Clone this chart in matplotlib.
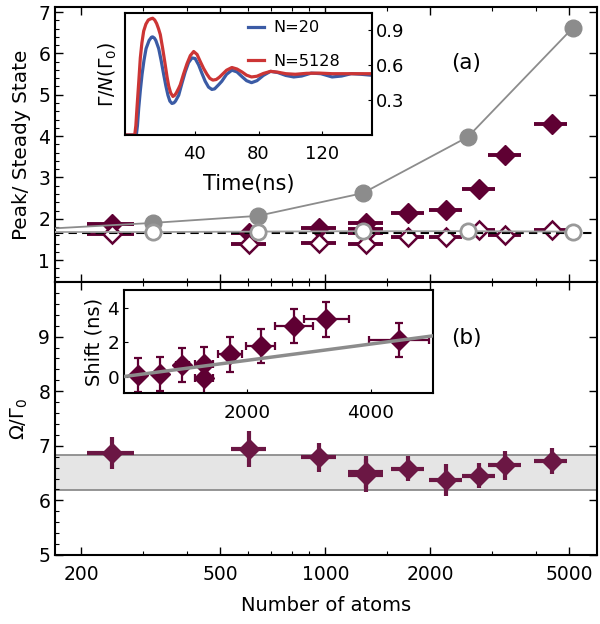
import matplotlib
matplotlib.use("Agg")
import matplotlib.pyplot as plt
from matplotlib.ticker import FixedLocator, MultipleLocator, NullFormatter

plt.rcParams['font.family'] = ['DejaVu Sans']
plt.rcParams['mathtext.fontset'] = 'dejavusans'

# measured atom numbers (shared by all panels)
atoms = [245, 605, 960, 1310, 1310, 1730, 2220, 2760, 3280, 4450]
atoms_err = [37, 70, 110, 150, 150, 190, 240, 300, 360, 480]

# panel (a): peak and steady state
peak_meas = [1.88, 1.66, 1.78, 1.90, 1.76, 2.13, 2.21, 2.71, 3.55, 4.28]
steady_meas = [1.62, 1.40, 1.42, 1.65, 1.38, 1.56, 1.56, 1.72, 1.60, 1.74]
theory_atoms = [160, 320, 640, 1280, 2560, 5120]
peak_theory = [1.76, 1.90, 2.07, 2.62, 3.98, 6.62]
steady_theory = [1.68, 1.68, 1.69, 1.70, 1.70, 1.69]
steady_level = 1.645

# inset (a): decay rate vs time
red_t = [-4, 2.5, 3.2, 3.9, 5, 6, 7, 8.1, 9.5, 11, 12.5, 13.75, 15, 16.2, 17.4,
         18.5, 20, 21.6, 22.7, 23.75, 25, 26.4, 27.5, 28.5, 30, 31, 33, 35.2,
         37.3, 39.4, 41.5, 43.5, 45.6, 47.7, 49.5, 51.4, 53.5, 55.5, 57, 60,
         63.3, 66.5, 69.6, 72.5, 75.6, 79, 83, 87.5, 92, 97, 103, 110, 118, 126,
         134, 142, 152]
red_v = [0, 0, 0.08, 0.23, 0.45, 0.66, 0.79, 0.89, 0.95, 0.985, 0.995, 1.0, 0.985,
         0.955, 0.91, 0.86, 0.74, 0.60, 0.50, 0.42, 0.36, 0.33, 0.34, 0.36, 0.40,
         0.43, 0.52, 0.61, 0.68, 0.715, 0.69, 0.63, 0.57, 0.52, 0.485, 0.47, 0.475,
         0.495, 0.515, 0.555, 0.578, 0.565, 0.54, 0.512, 0.497, 0.503, 0.527,
         0.545, 0.538, 0.525, 0.52, 0.528, 0.53, 0.525, 0.525, 0.525, 0.525]
blue_t = [-4, 3.5, 4.2, 5, 6, 7.1, 8.3, 9.6, 11.5, 13.0, 13.75, 14.8, 15.7, 17.5,
          19, 20.6, 22, 23.3, 24.5, 25.8, 27, 28, 30, 32, 34.1, 36.2, 38.3, 40.3,
          42.5, 44.5, 46.6, 48.7, 50.8, 52.5, 55, 57, 60, 63.3, 66.5, 69.6, 72.5,
          75.6, 79, 83, 87.5, 92, 97, 102, 107, 113, 119, 126, 132, 138, 144, 152]
blue_v = [0, 0, 0.08, 0.23, 0.38, 0.52, 0.64, 0.74, 0.81, 0.838, 0.84, 0.83, 0.81,
          0.74, 0.64, 0.52, 0.42, 0.34, 0.29, 0.27, 0.275, 0.29, 0.34, 0.44, 0.54,
          0.62, 0.66, 0.655, 0.60, 0.53, 0.46, 0.41, 0.39, 0.395, 0.43, 0.46, 0.52,
          0.555, 0.54, 0.50, 0.465, 0.448, 0.465, 0.51, 0.545, 0.535, 0.51, 0.497,
          0.505, 0.53, 0.525, 0.497, 0.505, 0.525, 0.52, 0.51]

# panel (b): oscillation frequency
omega = [6.87, 6.95, 6.79, 6.52, 6.46, 6.58, 6.37, 6.45, 6.64, 6.72]
omega_err = [0.30, 0.33, 0.27, 0.30, 0.30, 0.23, 0.29, 0.23, 0.27, 0.24]
omega_band = [6.19, 6.84]

# inset (b): time shift
shift = [0.10, 0.14, 0.68, 0.74, -0.06, 1.30, 1.80, 2.95, 3.34, 2.13]
shift_err = [1.0, 1.0, 1.0, 1.0, 1.0, 1.0, 1.0, 1.0, 1.0, 1.0]
fit_atoms = [0, 5000]
fit_shift = [0.0, 2.38]

maroon = '#5f0033'
maroon_b = '#6b1744'
gray = '#8c8c8c'

fig = plt.figure(figsize=(6, 6.24), dpi=100)
ax1 = fig.add_axes([0.0917, 0.548, 0.9033, 0.4407])
ax2 = fig.add_axes([0.0917, 0.1106, 0.9033, 0.4374])

for ax in (ax1, ax2):
    ax.set_xscale('log')
    ax.set_xlim(168, 6000)
    ax.xaxis.set_major_locator(FixedLocator([200, 500, 1000, 2000, 5000]))
    ax.xaxis.set_minor_locator(FixedLocator([300, 400, 600, 700, 800, 900, 1500, 3000, 4000]))
    ax.xaxis.set_minor_formatter(NullFormatter())
    ax.yaxis.set_minor_locator(MultipleLocator(0.2))
    ax.tick_params(which='both', direction='in', top=True, right=True, labelsize=13.5)
    ax.tick_params(which='major', length=6, width=1)
    ax.tick_params(which='minor', length=3, width=0.8)
    ax.tick_params(axis='y', which='minor', right=False)
    for s in ax.spines.values():
        s.set_linewidth(1.5)

# panel (a)
ax1.errorbar(atoms, peak_meas, xerr=atoms_err, fmt='D', color=maroon, ms=10.5,
             elinewidth=2.8, capsize=0, zorder=2)
ax1.errorbar(atoms, steady_meas, xerr=atoms_err, fmt='D', mfc='white', mec=maroon,
             mew=1.8, ecolor=maroon, ms=9.5, elinewidth=2.8, capsize=0, zorder=2)
ax1.axhline(steady_level, color='k', ls=(0, (4, 2.5)), lw=1.5, zorder=3)
ax1.plot(theory_atoms, peak_theory, '-', color=gray, lw=1.3, marker='o', ms=12,
         markevery=[1, 2, 3, 4, 5], mfc=gray, mec=gray, zorder=4)
ax1.plot(theory_atoms, steady_theory, '-', color='#a0a0a0', lw=1.3, marker='o', ms=11,
         markevery=[1, 2, 3, 4, 5], mfc='white', mec='#999999', mew=2, zorder=4)
ax1.set_ylim(0.47, 7.12)
ax1.yaxis.set_major_locator(MultipleLocator(1))
ax1.tick_params(axis='x', labelbottom=False)
ax1.set_ylabel('Peak/ Steady State', fontsize=14.4, labelpad=5)
ax1.text(0.759, 0.796, '(a)', transform=ax1.transAxes, fontsize=15.5, ha='center', va='center')

# panel (b)
ax2.axhspan(omega_band[0], omega_band[1], color='#e5e5e5', lw=0, zorder=1)
for v in omega_band:
    ax2.axhline(v, color='#8c8c8c', lw=1.3, zorder=1)
ax2.errorbar(atoms, omega, xerr=atoms_err, yerr=omega_err, fmt='D', color=maroon_b,
             ms=10, elinewidth=3, capsize=0, zorder=2)
ax2.set_ylim(5, 10)
ax2.yaxis.set_major_locator(FixedLocator([5, 6, 7, 8, 9]))
ax2.set_xticklabels(['200', '500', '1000', '2000', '5000'])
ax2.tick_params(axis='x', pad=7)
ax2.set_xlabel('Number of atoms', fontsize=14, labelpad=9)
ax2.set_ylabel(r'$\Omega/\Gamma_0$', fontsize=14, labelpad=6)
ax2.text(0.759, 0.795, '(b)', transform=ax2.transAxes, fontsize=15.5, ha='center', va='center')

# inset (a)
ia = fig.add_axes([0.2083, 0.7837, 0.4117, 0.1955])
ia.plot(blue_t, blue_v, color='#3b5ba5', lw=2.3, label='N=20')
ia.plot(red_t, red_v, color='#cc3535', lw=2.3, label='N=5128')
ia.set_xlim(-3.6, 151)
ia.set_ylim(0, 1.045)
ia.xaxis.set_major_locator(FixedLocator([40, 80, 120]))
ia.yaxis.set_major_locator(FixedLocator([0.3, 0.6, 0.9]))
ia.yaxis.tick_right()
ia.yaxis.set_label_position('left')
ia.tick_params(direction='in', length=3, labelsize=13, pad=3)
ia.tick_params(axis='x', pad=7)
ia.set_xlabel('Time(ns)', fontsize=15, labelpad=8)
ia.set_ylabel(r'$\Gamma/N(\Gamma_0)$', fontsize=13.5, labelpad=4)
for s in ia.spines.values():
    s.set_linewidth(1.5)
ia.legend(loc='upper right', bbox_to_anchor=(0.9, 1.0), frameon=False, fontsize=11.6,
          handlelength=1.0, labelspacing=1.15, borderaxespad=0.05, handletextpad=0.6)

# inset (b)
ib = fig.add_axes([0.2067, 0.3702, 0.515, 0.165])
ib.plot(fit_atoms, fit_shift, color='#8c8c8c', lw=2.5, zorder=3)
ib.errorbar(atoms, shift, xerr=atoms_err, yerr=shift_err, fmt='D', color=maroon,
            ms=10.5, elinewidth=1.6, capsize=3, capthick=1.6, zorder=2)
ib.set_xlim(20, 5000)
ib.set_ylim(-0.95, 5.05)
ib.xaxis.set_major_locator(FixedLocator([2000, 4000]))
ib.yaxis.set_major_locator(FixedLocator([0, 2, 4]))
ib.tick_params(direction='in', length=3, labelsize=13.3)
ib.tick_params(axis='x', pad=8)
ib.set_ylabel('Shift (ns)', fontsize=14, labelpad=3)
for s in ib.spines.values():
    s.set_linewidth(1.5)

fig.savefig('out.png', dpi=100)
